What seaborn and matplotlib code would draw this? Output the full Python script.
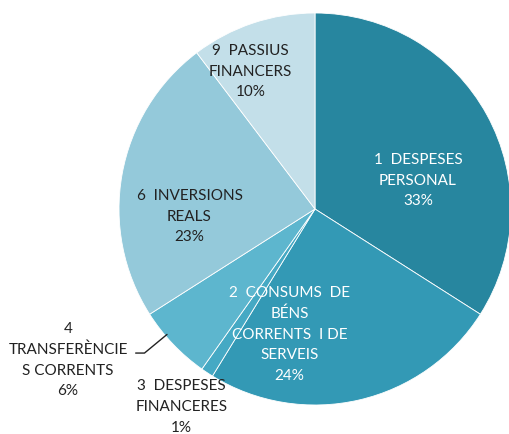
import matplotlib
matplotlib.use("Agg")
import matplotlib.pyplot as plt
import seaborn as sns

sns.set_theme(style="white")
plt.rcParams['font.family'] = ['Lato', 'DejaVu Sans']

# Data
categories = [
    "1  DESPESES\nPERSONAL",
    "2  CONSUMS  DE\nBÉNS\nCORRENTS  I DE\nSERVEIS",
    "3  DESPESES\nFINANCERES",
    "4\nTRANSFERÈNCIE\nS CORRENTS",
    "6  INVERSIONS\nREALS",
    "9  PASSIUS\nFINANCERS",
]
percentages = [33, 24, 1, 6, 23, 10]
colors = ["#27869F", "#3399B5", "#45A9C4", "#5DB6CE", "#94C9DA", "#C3DFE9"]
text_colors = ["white", "white", "#222222", "#222222", "#222222", "#222222"]

# Layout (label centres, in axes data units; pie radius = 1)
label_pos = [(0.525, 0.145), (-0.13, -0.64), (-0.68, -1.01),
             (-1.26, -0.77), (-0.64, -0.04), (-0.33, 0.70)]

fig = plt.figure(figsize=(5.09, 4.34), dpi=100)
cx, cy, r = 315, 434 - 209, 196
ax = fig.add_axes([(cx - r) / 509, (cy - r) / 434, 2 * r / 509, 2 * r / 434])
ax.set_xlim(-1, 1)
ax.set_ylim(-1, 1)
ax.set_aspect("equal")
ax.axis("off")

wedges, _ = ax.pie(percentages, colors=colors, startangle=90, counterclock=False,
                   radius=1.0, wedgeprops=dict(edgecolor="white", linewidth=0.6))
ax.set_xlim(-1, 1)
ax.set_ylim(-1, 1)

for cat, pct, (x, y), tc in zip(categories, percentages, label_pos, text_colors):
    ax.text(x, y, f"{cat}\n{pct}%", ha="center", va="center", color=tc,
            fontsize=11, linespacing=1.6, clip_on=False)

# leader line for slice 4
ax.plot([-0.915, -0.87, -0.755], [-0.735, -0.735, -0.64], color="#222222",
        linewidth=1, clip_on=False)

fig.savefig("out.png", dpi=100)
